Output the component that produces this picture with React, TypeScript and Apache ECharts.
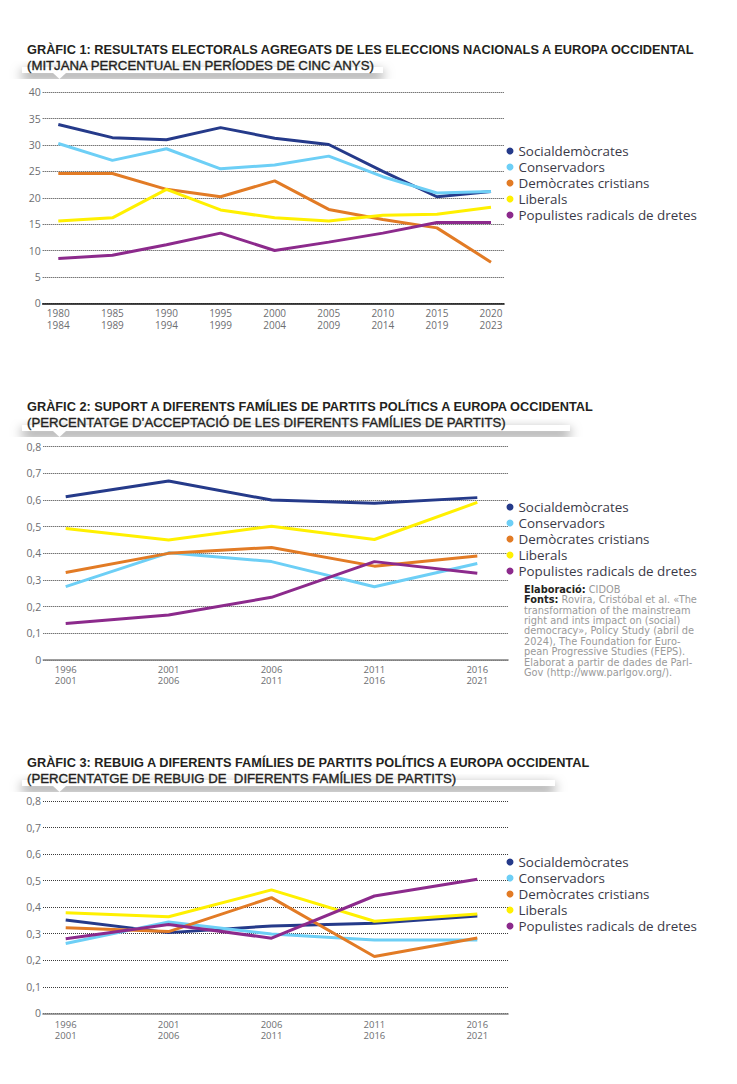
import React, { useEffect, useRef } from 'react';
import * as echarts from 'echarts';

const seriesNames = ['Socialdemòcrates', 'Conservadors', 'Demòcrates cristians', 'Liberals', 'Populistes radicals de dretes'];
const seriesColors = ['#253a8a', '#6dcff6', '#e27b25', '#fff000', '#8c2a8c'];

// Chart 1
const periods1 = ['1980\n1984', '1985\n1989', '1990\n1994', '1995\n1999', '2000\n2004', '2005\n2009', '2010\n2014', '2015\n2019', '2020\n2023'];
const social1 = [33.9, 31.4, 31.0, 33.3, 31.3, 30.1, 25.0, 20.2, 21.2];
const conserv1 = [30.3, 27.1, 29.3, 25.5, 26.2, 27.9, 24.0, 20.9, 21.2];
const democr1 = [24.6, 24.6, 21.6, 20.2, 23.2, 17.8, 15.9, 14.3, 7.8];
const liberal1 = [15.6, 16.2, 21.6, 17.7, 16.2, 15.6, 16.7, 16.9, 18.2];
const popul1 = [8.5, 9.1, 11.1, 13.3, 10.0, 11.6, 13.3, 15.3, 15.3];

// Chart 2
const periods2 = ['1996\n2001', '2001\n2006', '2006\n2011', '2011\n2016', '2016\n2021'];
const social2 = [0.612, 0.671, 0.6, 0.588, 0.609];
const conserv2 = [0.275, 0.402, 0.369, 0.275, 0.362];
const democr2 = [0.328, 0.4, 0.422, 0.352, 0.39];
const liberal2 = [0.493, 0.45, 0.502, 0.452, 0.591];
const popul2 = [0.137, 0.169, 0.235, 0.369, 0.325];

// Chart 3
const periods3 = ['1996\n2001', '2001\n2006', '2006\n2011', '2011\n2016', '2016\n2021'];
const social3 = [0.352, 0.304, 0.329, 0.339, 0.367];
const conserv3 = [0.263, 0.344, 0.299, 0.276, 0.276];
const democr3 = [0.322, 0.308, 0.436, 0.214, 0.284];
const liberal3 = [0.379, 0.364, 0.465, 0.347, 0.374];
const popul3 = [0.281, 0.335, 0.283, 0.442, 0.505];

const titles1 = ['GRÀFIC 1: RESULTATS ELECTORALS AGREGATS DE LES ELECCIONS NACIONALS A EUROPA OCCIDENTAL', '(MITJANA PERCENTUAL EN PERÍODES DE CINC ANYS)'];
const titles2 = ['GRÀFIC 2: SUPORT A DIFERENTS FAMÍLIES DE PARTITS POLÍTICS A EUROPA OCCIDENTAL', '(PERCENTATGE D’ACCEPTACIÓ DE LES DIFERENTS FAMÍLIES DE PARTITS)'];
const titles3 = ['GRÀFIC 3: REBUIG A DIFERENTS FAMÍLIES DE PARTITS POLÍTICS A EUROPA OCCIDENTAL', '(PERCENTATGE DE REBUIG DE  DIFERENTS FAMÍLIES DE PARTITS)'];

const FONT = '"Open Sans", "Noto Sans", sans-serif';
const TITLE_FONT = '"Liberation Sans", Arial, sans-serif';
const SRC_FONT = '"DejaVu Sans", "Open Sans", sans-serif';
const LABEL_COLOR = '#6d6e71';

const App: React.FC = () => {
  const ref = useRef<HTMLDivElement>(null);

  useEffect(() => {
    if (!ref.current) return;
    const chart = echarts.init(ref.current, null, { renderer: 'svg' });

    const charts = [
      {
        periods: periods1, data: [social1, conserv1, democr1, liberal1, popul1],
        max: 40, interval: 5, fmt: (v: number) => String(v),
        wide: { left: 42.7, right: 504, top: 92.3, bottom: 303.3 },
        narrow: { left: 58.3, right: 491 },
        axisColor: '#111', labFS: 10, labLH: 12, labMargin: 4, legendTop: 144,
      },
      {
        periods: periods2, data: [social2, conserv2, democr2, liberal2, popul2],
        max: 0.8, interval: 0.1, fmt: (v: number) => (v === 0 ? '0' : v.toFixed(1).replace('.', ',')),
        wide: { left: 43.3, right: 508, top: 446.7, bottom: 660 },
        narrow: { left: 65.7, right: 477.3 },
        axisColor: '#808080', labFS: 9.5, labLH: 11, labMargin: 3.5, legendTop: 500,
      },
      {
        periods: periods3, data: [social3, conserv3, democr3, liberal3, popul3],
        max: 0.8, interval: 0.1, fmt: (v: number) => (v === 0 ? '0' : v.toFixed(1).replace('.', ',')),
        wide: { left: 43, right: 508, top: 801, bottom: 1013.3 },
        narrow: { left: 65.7, right: 477.3 },
        axisColor: '#808080', labFS: 9.5, labLH: 11.5, labMargin: 5, legendTop: 855,
      },
    ];

    const grid: any[] = [];
    const xAxis: any[] = [];
    const yAxis: any[] = [];
    const series: any[] = [];
    const legend: any[] = [];

    charts.forEach((c, k) => {
      const h = c.wide.bottom - c.wide.top;
      grid.push({ left: c.wide.left, top: c.wide.top, width: c.wide.right - c.wide.left, height: h, containLabel: false, outerBoundsMode: 'none' });
      grid.push({ left: c.narrow.left, top: c.wide.top, width: c.narrow.right - c.narrow.left, height: h, containLabel: false, outerBoundsMode: 'none' });
      xAxis.push({
        type: 'value', gridIndex: 2 * k, min: 0, max: 1,
        axisLine: { show: true, lineStyle: { color: c.axisColor, width: 1.6 } },
        axisTick: { show: false }, axisLabel: { show: false }, splitLine: { show: false },
      });
      xAxis.push({
        type: 'category', gridIndex: 2 * k + 1, data: c.periods, boundaryGap: false,
        axisLine: { show: false }, axisTick: { show: false },
        axisLabel: { interval: 0, color: LABEL_COLOR, fontSize: c.labFS, lineHeight: c.labLH, margin: c.labMargin, fontFamily: FONT },
      });
      yAxis.push({
        type: 'value', gridIndex: 2 * k, min: 0, max: c.max, interval: c.interval,
        axisLine: { show: false }, axisTick: { show: false },
        axisLabel: { color: LABEL_COLOR, fontSize: 10.5, margin: 2, fontFamily: FONT, formatter: c.fmt },
        splitLine: { show: true, lineStyle: { color: '#3a3a3a', width: 1, type: [1, 1] } },
      });
      yAxis.push({ type: 'value', gridIndex: 2 * k + 1, min: 0, max: c.max, show: false, splitLine: { show: false } });
      c.data.forEach((d, i) => {
        series.push({
          type: 'line', name: seriesNames[i], xAxisIndex: 2 * k + 1, yAxisIndex: 2 * k + 1,
          data: d, showSymbol: false, symbol: 'none', color: seriesColors[i],
          lineStyle: { width: 3, color: seriesColors[i] },
        });
      });
      legend.push({
        orient: 'vertical', left: 506.5, top: c.legendTop, icon: 'circle',
        itemWidth: 7, itemHeight: 7, itemGap: 2, padding: 0, selectedMode: false,
        data: seriesNames,
        textStyle: { color: '#3a3a48', fontSize: 13.4, lineHeight: 14, fontFamily: FONT },
      });
    });

    const graphic: any[] = [];
    const bars = [
      { y: 67, x1: 383 },
      { y: 425, x1: 570 },
      { y: 780, x1: 555 },
    ];
    bars.forEach((b) => {
      graphic.push({
        type: 'rect', z: 1,
        shape: { x: 22, y: b.y, width: b.x1 - 22, height: 6 },
        style: { fill: '#fff', shadowBlur: 12, shadowOffsetY: 5, shadowColor: 'rgba(0,0,0,0.6)' },
      });
      graphic.push({
        type: 'polygon', z: 2,
        shape: { points: [[53, b.y + 6], [66, b.y + 6], [59.5, b.y + 12]] },
        style: { fill: '#fff' },
      });
    });
    const titleSets = [
      { t: titles1, y1: 49.8, y2: 65.2 },
      { t: titles2, y1: 406.8, y2: 422.2 },
      { t: titles3, y1: 762.8, y2: 778.2 },
    ];
    titleSets.forEach((s) => {
      graphic.push({
        type: 'text', z: 5, x: 27, y: s.y1,
        style: { text: s.t[0], fill: '#231f20', fontSize: 12.75, fontWeight: 'bold', fontFamily: TITLE_FONT, verticalAlign: 'middle' },
      });
      graphic.push({
        type: 'text', z: 5, x: 27, y: s.y2,
        style: { text: s.t[1], fill: '#231f20', stroke: '#231f20', lineWidth: 0.35, fontSize: 13.2, fontWeight: 'normal', fontFamily: TITLE_FONT, verticalAlign: 'middle' },
      });
    });

    const srcLines = [
      '{b|Elaboració:} {g|CIDOB}',
      '{b|Fonts:} {g|Rovira, Cristóbal et al. «The}',
      '{g|transformation of the mainstream}',
      '{g|right and ints impact on (social)}',
      '{g|democracy», Policy Study (abril de}',
      '{g|2024), The Foundation for Euro-}',
      '{g|pean Progressive Studies (FEPS).}',
      '{g|Elaborat a partir de dades de Parl-}',
      '{g|Gov (http://www.parlgov.org/).}',
    ];
    graphic.push({
      type: 'text', z: 5, x: 524, y: 584,
      style: {
        text: srcLines.join('\n'), fontSize: 9.8, lineHeight: 10.4, fontFamily: SRC_FONT, fill: '#999',
        rich: {
          b: { fontWeight: 'bold', fill: '#231f20', fontSize: 9.8, lineHeight: 10.4, fontFamily: SRC_FONT },
          g: { fill: '#9a9a9a', fontSize: 9.8, lineHeight: 10.4, fontFamily: SRC_FONT },
        },
      },
    });

    chart.setOption({
      animation: false,
      backgroundColor: '#fff',
      grid, xAxis, yAxis, series, legend, graphic,
    });

    return () => chart.dispose();
  }, []);

  return <div ref={ref} style={{ position: 'absolute', left: 0, top: 0, width: 737, height: 1084 }} />;
};

export default App;
